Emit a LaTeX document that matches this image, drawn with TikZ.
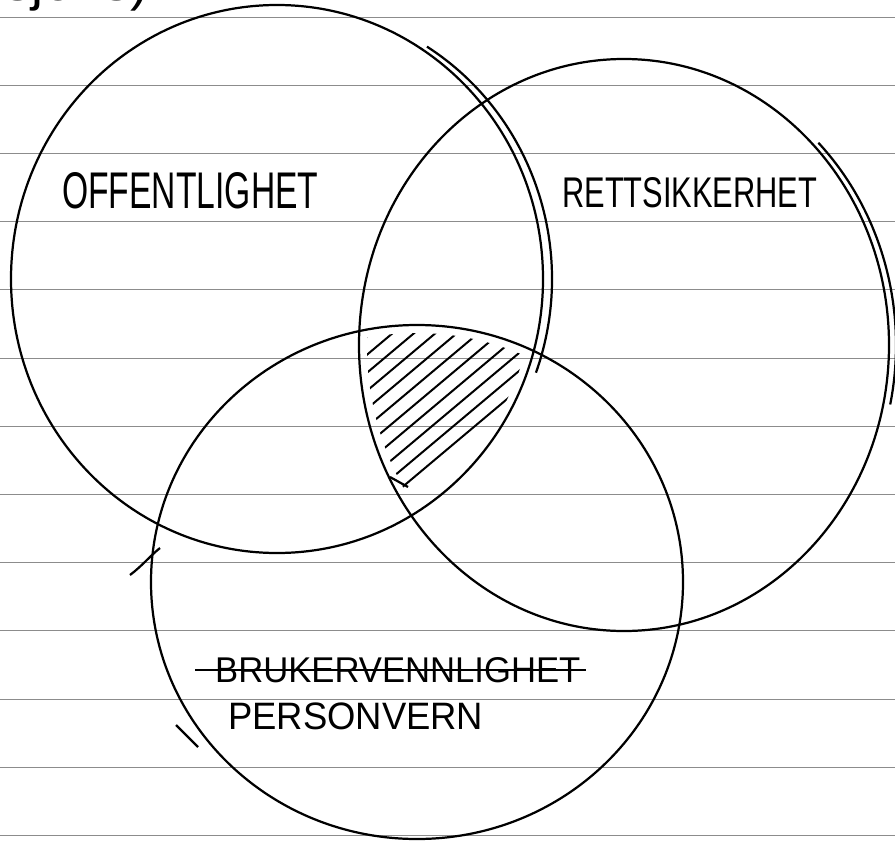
\documentclass[tikz,border=0pt]{standalone}
\usepackage{fontspec}
\setmainfont{Liberation Sans}
\usepackage{graphicx}
\usetikzlibrary{positioning}

\newcommand{\hand}[3]{\resizebox{#1}{#2}{#3}}

\begin{document}
\begin{tikzpicture}[
	  x=0.03cm, y=-0.03cm,
	  paperline/.style = {draw=black!45, line width=0.7pt},
	  venn/.style = {draw, line width=1.9pt},
	  hatch/.style = {line width=1.7pt, line cap=round},
	  every node/.style = {inner sep=0pt, anchor=west}
	]
	\useasboundingbox (0,0) rectangle (895,842);
	\clip (0,0) rectangle (895,842);
	\fill[white] (0,0) rectangle (895,842);

	% lined paper
	\foreach \k in {0,...,12}
	  \draw[paperline] (0,17+68.2*\k) -- (895,17+68.2*\k);

	% end of the line above, cut off
	\node (rest) [anchor=base west] at (4,1) {\scalebox{1.05}[1]{\fontsize{44}{48}\selectfont sjons)}};

	\coordinate (offcentre) at (277,279);
	\coordinate (rettcentre) at (624,345);
	\coordinate (perscentre) at (417,582);

	% the three sets
	\draw[venn] (offcentre) ellipse [x radius=266, y radius=274];
	\draw[venn] (rettcentre) ellipse [x radius=265, y radius=286];
	\draw[venn] (perscentre) ellipse [x radius=266, y radius=257];

	% second strokes of the pen
	\draw[venn] ([shift={(-58:266 and 274)}]offcentre) ++(9,0)
	  arc [start angle=-58, end angle=20, x radius=266, y radius=274];
	\draw[venn] ([shift={(-45:265 and 286)}]rettcentre) ++(7,0)
	  arc [start angle=-45, end angle=12, x radius=265, y radius=286];
	\draw[venn] (160,548) .. controls (150,556) and (142,566) .. (130,575);
	\draw[venn] (176,725) -- (198,747);
	\draw[venn] (390,477) -- (408,487);

	% shaded common part
	\begin{scope}
	  \clip (offcentre) ellipse [x radius=258, y radius=266];
	  \clip (rettcentre) ellipse [x radius=257, y radius=278];
	  \clip (perscentre) ellipse [x radius=258, y radius=249];
	  \foreach \c in {645,663,...,835}
	    \draw[hatch] (330,\c-0.84*330) -- (560,\c-0.84*560);
	\end{scope}

	% names of the sets
	\node (off) at (62,191) {\hand{7.68cm}{1.08cm}{OFFENTLIGHET}};
	\node (rett) at (562,193) {\hand{7.65cm}{0.9cm}{RETTSIKKERHET}};
	\node (bruk) at (215,670) {\hand{10.95cm}{0.75cm}{BRUKERVENNLIGHET}};
	\draw[line width=1.6pt] ([xshift=-0.6cm]bruk.west) -- ([xshift=0.15cm]bruk.east);
	\node (pers) [below=0.6cm of bruk.south west, anchor=north west, xshift=0.39cm] {\hand{7.65cm}{0.8cm}{PERSONVERN}};
\end{tikzpicture}
\end{document}
